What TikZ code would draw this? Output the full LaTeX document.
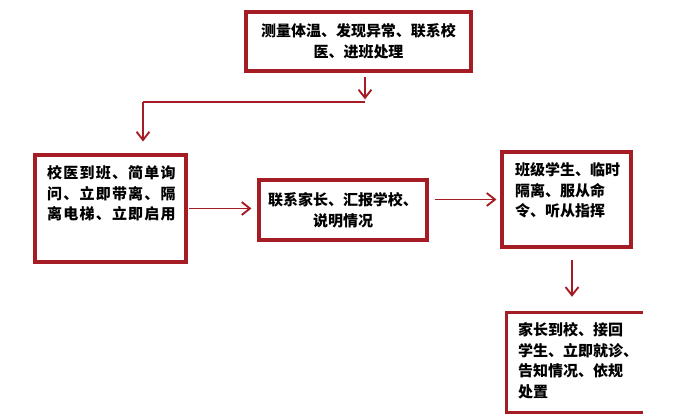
\documentclass[tikz,border=0pt]{standalone}
\usepackage{fontspec}
\setmainfont{Noto Sans CJK SC}
\usetikzlibrary{arrows.meta, positioning}
\definecolor{boxred}{RGB}{166,28,36}

\begin{document}
\begin{tikzpicture}[
    x=0.03cm, y=-0.03cm,
    every node/.style={font=\fontsize{12.8}{17.8}\selectfont\bfseries},
    box/.style={draw=boxred, line width=2.6pt, inner sep=0pt, align=center},
    boxline/.style={draw=boxred, line width=2.6pt},
    txt/.style={align=left, inner sep=0pt, anchor=north west},
    arr/.style={draw=boxred, line width=1.6pt, -{Straight Barb[length=7pt, width=11pt]}},
]
    \useasboundingbox (0,0) rectangle (700,418);

    % boxes
    \node[box, minimum width=6.75cm, minimum height=1.77cm] (check) at (358.5,41.5)
        {测量体温、发现异常、联系校\\医、进班处理};
    \node[box, minimum width=4.53cm, minimum height=3.21cm] (doctor) at (110.5,208.5) {};
    \node[txt, font=\fontsize{12.8}{17.8}\selectfont\bfseries\addfontfeature{LetterSpace=8}] (doctortxt) at (47,165)
        {校医到班、简单询\\问、立即带离、隔\\离电梯、立即启用};
    \node[box, minimum width=5.04cm, minimum height=1.8cm] (parent) at (343,210)
        {联系家长、汇报学校、\\说明情况};
    \node[box, minimum width=3.87cm, minimum height=2.85cm] (class) at (566.5,199.5) {};
    \node[txt] (classtxt) at (515,162) {班级学生、临时\\隔离、服从命\\令、听从指挥};
    \node[minimum width=4.08cm, minimum height=2.97cm, inner sep=0pt] (home) at (575,362.5) {};
    \draw[boxline] (home.north east) -- (home.north west) -- (home.south west) -- (home.south east);
    \node[txt] (hometxt) at (518,322) {家长到校、接回\\学生、立即就诊、\\告知情况、依规\\处置};

    % arrows
    \coordinate (turn) at (365,102);
    \coordinate (drop) at (143,102);
    \draw[arr, shorten <=4pt, shorten >=0.08cm] (turn |- check.south) -- (turn);
    \draw[boxline, line width=1.6pt] (turn) -- (drop);
    \draw[arr, shorten >=0.36cm] (drop) -- (drop |- doctor.north);
    \draw[arr, shorten <=0.05cm, shorten >=0.18cm] (doctor.east) -- (doctor.east -| parent.west);
    \draw[arr, shorten <=0.18cm, shorten >=0.12cm] (parent.east |- class.west) -- (class.west);
    \draw[arr, shorten <=0.33cm, shorten >=0.48cm] (class.south -| 572,0) -- (home.north -| 572,0);
\end{tikzpicture}
\end{document}
